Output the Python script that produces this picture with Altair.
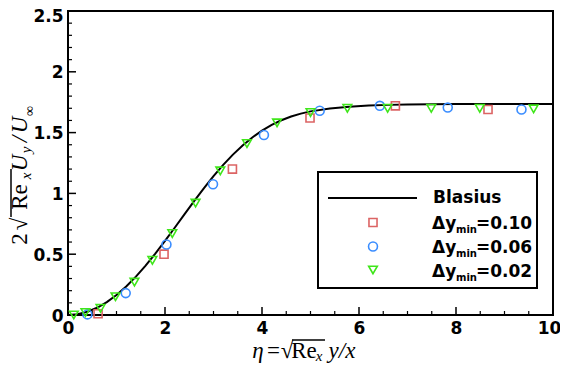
import altair as alt
import pandas as pd

# ---- data ----
blasius_eta = [0, 0.2, 0.4, 0.6, 0.8, 1.0, 1.2, 1.4, 1.6, 1.8, 2.0, 2.2, 2.4, 2.6, 2.8,
               3.0, 3.2, 3.4, 3.6, 3.8, 4.0, 4.2, 4.4, 4.6, 4.8, 5.0, 5.4, 5.8, 6.2,
               6.6, 7.0, 8.0, 9.0, 10.0]
blasius_val = [0, 0.0066, 0.0266, 0.0596, 0.1057, 0.1642, 0.2346, 0.3158, 0.4065,
               0.5051, 0.6095, 0.7177, 0.8273, 0.9359, 1.0413, 1.1413, 1.2344, 1.3191,
               1.3945, 1.4602, 1.5163, 1.5632, 1.6015, 1.6321, 1.6561, 1.6745, 1.6990,
               1.7130, 1.7220, 1.7280, 1.7320, 1.7350, 1.7350, 1.7350]

sq_x = [0.62, 1.98, 3.39, 4.99, 6.75, 8.66]
sq_y = [0.01, 0.50, 1.20, 1.62, 1.72, 1.69]

ci_x = [0.40, 1.19, 2.03, 2.99, 4.04, 5.19, 6.43, 7.83, 9.35]
ci_y = [0.005, 0.18, 0.58, 1.075, 1.48, 1.68, 1.72, 1.706, 1.69]

tr_x = [0.12, 0.36, 0.67, 0.98, 1.37, 1.74, 2.15, 2.63, 3.14, 3.69, 4.31, 5.00,
        5.76, 6.59, 7.49, 8.49, 9.60]
tr_y = [0.0, 0.02, 0.055, 0.15, 0.27, 0.45, 0.67, 0.92, 1.185, 1.41, 1.58, 1.665,
        1.70, 1.70, 1.70, 1.70, 1.695]

x_major = [0, 2, 4, 6, 8, 10]
x_minor = [0.5, 1, 1.5, 2.5, 3, 3.5, 4.5, 5, 5.5, 6.5, 7, 7.5, 8.5, 9, 9.5]
y_major = [0, 0.5, 1, 1.5, 2, 2.5]
y_minor = [v / 10 for v in range(1, 25) if v % 5 != 0]

legend_names = ["Blasius", "0.10", "0.06", "0.02"]

RED = "#dc6464"
BLUE = "#3a8dff"
GREEN = "#3fe61a"

W, H = 485, 304
LF = "DejaVu Sans"

xscale = alt.Scale(domain=[0, 10], nice=False)
yscale = alt.Scale(domain=[0, 2.5], nice=False)
xaxis = alt.Axis(values=x_major, ticks=False, domain=False, grid=False, title=None,
                 labelFont=LF, labelFontWeight="bold", labelFontSize=17,
                 labelColor="black", labelPadding=5, labelFlush=False,
                 labelOffset={"condition": {"test": "datum.value == 10", "value": -4},
                              "value": 0})
yaxis = alt.Axis(values=y_major, ticks=False, domain=False, grid=False, title=None,
                 format="~g", labelFont=LF, labelFontWeight="bold",
                 labelFontSize=17, labelColor="black", labelPadding=5,
                 labelBaseline={"condition": {"test": "datum.value == 2.5", "value": "top"},
                                "value": "middle"},
                 labelOffset={"condition": {"test": "datum.value == 2.5", "value": -3},
                              "value": 1})


def X(f="x"):
    return alt.X(f"{f}:Q", scale=xscale, axis=xaxis)


def Y(f="y"):
    return alt.Y(f"{f}:Q", scale=yscale, axis=yaxis)


curve = alt.Chart(pd.DataFrame({"x": blasius_eta, "y": blasius_val})).mark_line(
    color="black", strokeWidth=2).encode(x=X(), y=Y())


def pts(xs, ys, shape, color, size):
    return alt.Chart(pd.DataFrame({"x": xs, "y": ys})).mark_point(
        shape=shape, filled=False, color=color, size=size, strokeWidth=1.6, opacity=1
    ).encode(x=X(), y=Y())


squares = pts(sq_x, sq_y, "square", RED, 65)
circles = pts(ci_x, ci_y, "circle", BLUE, 80)
triangles = pts(tr_x, tr_y, "triangle-down", GREEN, 75)

xmaj = alt.Chart(pd.DataFrame({"x": x_major})).mark_rule(color="black", strokeWidth=1.5).encode(
    x=X(), y=alt.value(H), y2=alt.value(H - 8))
xmin = alt.Chart(pd.DataFrame({"x": x_minor})).mark_rule(color="black", strokeWidth=1.2).encode(
    x=X(), y=alt.value(H), y2=alt.value(H - 4))
ymaj = alt.Chart(pd.DataFrame({"y": y_major})).mark_rule(color="black", strokeWidth=1.5).encode(
    y=Y(), x=alt.value(0), x2=alt.value(8))
ymin = alt.Chart(pd.DataFrame({"y": y_minor})).mark_rule(color="black", strokeWidth=1.2).encode(
    y=Y(), x=alt.value(0), x2=alt.value(4))

one = alt.Data(values=[{"a": 1}])


def piece(text, x, y, size, font="Liberation Serif", italic=False, bold=False,
          angle=0, align="center", baseline="alphabetic"):
    kw = dict(text=text, font=font, fontSize=size, align=align, baseline=baseline,
              color="black")
    if italic:
        kw["fontStyle"] = "italic"
    if bold:
        kw["fontWeight"] = "bold"
    if angle:
        kw["angle"] = angle
    return alt.Chart(one).mark_text(**kw).encode(x=alt.value(x), y=alt.value(y))


def hline(x1, x2, y, w=1.5):
    return alt.Chart(one).mark_rule(color="black", strokeWidth=w).encode(
        x=alt.value(x1), x2=alt.value(x2), y=alt.value(y))


def vline(x, y1, y2, w=1.5):
    return alt.Chart(one).mark_rule(color="black", strokeWidth=w).encode(
        x=alt.value(x), y=alt.value(y1), y2=alt.value(y2))


# ---- y-axis title: 2 sqrt(Re_x) U_y / U_inf  (rotated) ----
ybl = -41
ytitle = [
    piece("2", ybl, 228, 23, angle=270),
    piece("√", ybl, 213, 23, angle=270),
    vline(-57, 206, 158),
    piece("Re", ybl, 186, 23, angle=270),
    piece("x", ybl + 4, 165, 15, italic=True, angle=270),
    piece("U", ybl, 152, 23, italic=True, angle=270),
    piece("y", ybl + 4, 139, 15, italic=True, angle=270),
    piece("/", ybl, 128, 23, italic=True, angle=270),
    piece("U", ybl, 114, 23, italic=True, angle=270),
    piece("∞", ybl + 7, 100, 14, angle=270),
]

# ---- x-axis title: eta = sqrt(Re_x) y/x ----
xbl = 347
xtitle = [
    piece("η", 190, xbl, 23, italic=True),
    piece("=", 205.5, xbl, 23),
    piece("√", 219, xbl, 23),
    hline(224, 257, 329),
    piece("Re", 236, xbl, 23),
    piece("x", 251, xbl + 3, 15, italic=True),
    piece("y/x", 274, xbl, 23, italic=True),
]

# ---- legend ----
lbox = alt.Chart(one).mark_rect(fill="white", stroke="black", strokeWidth=2).encode(
    x=alt.value(250), x2=alt.value(469), y=alt.value(161), y2=alt.value(277))
lline = hline(260, 349, 187, w=2)


def lpt(y, shape, color, size):
    return alt.Chart(one).mark_point(shape=shape, filled=False, color=color, size=size,
                                     strokeWidth=1.6, opacity=1).encode(
        x=alt.value(305), y=alt.value(y))


rows = [211.5, 235.5, 259]
legend = [lbox, lline,
          piece(legend_names[0], 365, 187, 17, font=LF, bold=True,
                align="left", baseline="middle"),
          lpt(rows[0], "square", RED, 65), lpt(rows[1], "circle", BLUE, 80),
          lpt(rows[2], "triangle-down", GREEN, 75)]
for r, name in zip(rows, legend_names[1:]):
    legend += [
        piece("Δy", 364, r + 6.5, 17, font=LF, bold=True, align="left"),
        piece("min", 388, r + 10.5, 10, font=LF, bold=True, align="left"),
        piece("=" + name, 408, r + 6.5, 17, font=LF, bold=True, align="left"),
    ]

chart = alt.layer(
    xmaj, xmin, ymaj, ymin, curve, squares, circles, triangles,
    *legend, *ytitle, *xtitle
).properties(
    width=W, height=H, autosize="none",
    padding={"left": 60, "top": 3, "right": 7, "bottom": 48},
    background="white",
).configure_view(stroke="black", strokeWidth=2)

chart.save("out.html", embed_options={"renderer": "svg", "actions": False})
